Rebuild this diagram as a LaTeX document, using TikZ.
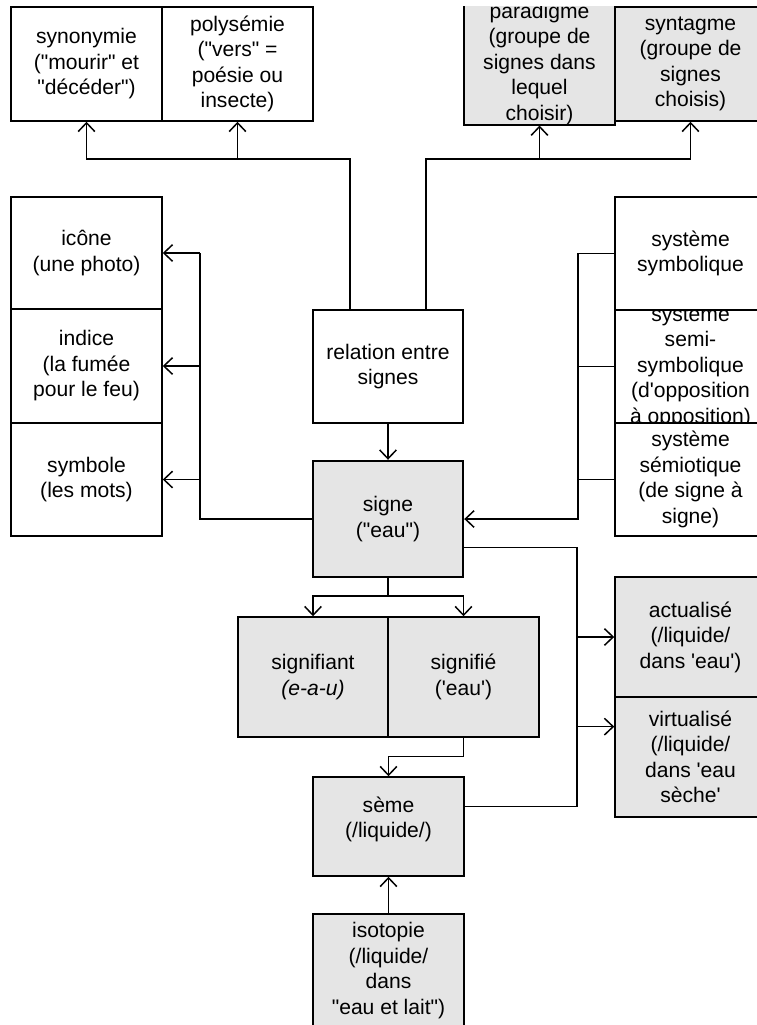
\documentclass[tikz,border=0pt]{standalone}
\usepackage{fontspec}
\setmainfont{Liberation Sans}[Ligatures=TeXOff]
\usetikzlibrary{arrows.meta,calc}
\definecolor{boxgray}{RGB}{229,229,229}
\begin{document}
\begin{tikzpicture}[x=0.02cm,y=-0.02cm,
  box/.style={draw,line width=0.85pt,fill=white,rectangle,inner sep=0pt,
    align=center,font=\fontsize{12}{14.5}\selectfont,
    minimum width=3.02cm,minimum height=2.26cm},
  grey/.style={box,fill=boxgray},
  link/.style={line width=0.85pt},
  arr/.style={link,-{Straight Barb[length=5pt,width=9.5pt,line width=0.85pt]}}]
\useasboundingbox (0,0) rectangle (757,1025);
\clip (-10,6.3) rectangle (800,1100);

% top row
\node[box,minimum height=2.28cm] (syn) at (86.5,64) {synonymie\\("mourir" et\\"décéder")};
\node[box,minimum height=2.28cm] (poly) at (237.5,64) {polysémie\\("vers" =\\poésie ou\\insecte)};
\node[grey,minimum height=2.28cm] (para) at (539.5,64) {paradigme\\(groupe de\\signes dans\\lequel\\choisir)};
\node[grey,minimum height=2.28cm] (synt) at (690.5,64) {syntagme\\(groupe de\\signes\\choisis)};

% left column
\node[box,minimum height=2.24cm] (icone) at (86.5,253) {icône\\(une photo)};
\node[box,minimum height=2.28cm] (indice) at (86.5,366) {indice\\(la fumée\\pour le feu)};
\node[box] (symbole) at (86.5,479.5) {symbole\\(les mots)};

% centre column
\node[box,minimum width=3cm] (relation) at (388,366.5) {relation entre\\signes};
\node[grey,minimum width=3cm,minimum height=2.32cm,line width=1.4pt] (signe) at (388,519) {signe\\("eau")};

% right column
\node[box] (sysSemi) at (690.5,366.5) {système\\semi-\\symbolique\\(d'opposition\\à opposition)};
\node[box] (sysSym) at (690.5,253.5) {système\\symbolique};
\node[box] (sysSemio) at (690.5,479.5) {système\\sémiotique\\(de signe à\\signe)};

% sign components
\node[grey,minimum width=3cm,minimum height=2.4cm] (signifiant) at (313,677) {signifiant\\\textit{(e-a-u)}};
\node[grey,minimum height=2.4cm] (signifie) at (463.5,677) {signifié\\('eau')};
\node[grey,minimum height=2.4cm] (actualise) at (690.5,637) {actualisé\\(/liquide/\\dans 'eau')};
\node[grey,minimum height=2.4cm] (virtualise) at (690.5,757) {virtualisé\\(/liquide/\\dans 'eau\\sèche'};
\node[grey,minimum height=1.98cm,text depth=10.5pt] (seme) at (388.5,826.5) {sème\\(/liquide/)};
\node[grey] (isotopie) at (388.5,970.5) {isotopie\\(/liquide/\\dans\\"eau et lait")};

% bus lines
\coordinate (tbus) at (0,159);
\coordinate (lbus) at (200,0);
\coordinate (rbus) at (578,0);
\coordinate (vbus) at (577,0);
\coordinate (sbus) at (0,596);

% relation between signs -> lexical and syntagmatic relations
\coordinate (relL) at ($(relation.north west)!0.25!(relation.north east)$);
\coordinate (relR) at ($(relation.north west)!0.75!(relation.north east)$);
\draw[arr] (relL) |- (syn.south |- tbus) -- (syn.south);
\draw[arr] (poly.south |- tbus) -- (poly.south);
\draw[arr] (relR) |- (synt.south |- tbus) -- (synt.south);
\draw[arr] (para.south |- tbus) -- (para.south);

\draw[arr] (relation.south) -- (signe.north);

% signe -> types of sign
\draw[link] (signe.west) -| (lbus |- icone.east);
\draw[arr] (lbus |- icone.east) -- (icone.east);
\draw[arr] (lbus |- indice.east) -- (indice.east);
\draw[arr] (lbus |- symbole.east) -- (symbole.east);

% semiotic systems -> signe
\draw[arr] (sysSym.west) -| (rbus |- signe.east) -- (signe.east);
\draw[link] (sysSemi.west) -- (rbus |- sysSemi.west);
\draw[link] (sysSemio.west) -- (rbus |- sysSemio.west);

% signe -> signifiant / signifie
\draw[link] (signe.south) -- (signe.south |- sbus);
\draw[arr] (signe.south |- sbus) -| (signifiant.north);
\draw[arr] (signe.south |- sbus) -| (signifie.north);

% signifie -> seme
\draw[arr] (signifie.south) -- ++(0,19) -| (seme.north);

% actualised / virtualised semes
\coordinate (sigR) at ($(signe.north east)!0.74!(signe.south east)$);
\coordinate (semR) at ($(seme.north east)!0.3!(seme.south east)$);
\coordinate (virQ) at ($(virtualise.north west)!0.25!(virtualise.south west)$);
\draw[link] (sigR) -| (vbus |- semR) -- (semR);
\draw[arr] (vbus |- actualise.west) -- (actualise.west);
\draw[arr] (vbus |- virQ) -- (virQ);

% isotopie -> seme
\draw[arr] (isotopie.north) -- (seme.south);
\end{tikzpicture}
\end{document}
